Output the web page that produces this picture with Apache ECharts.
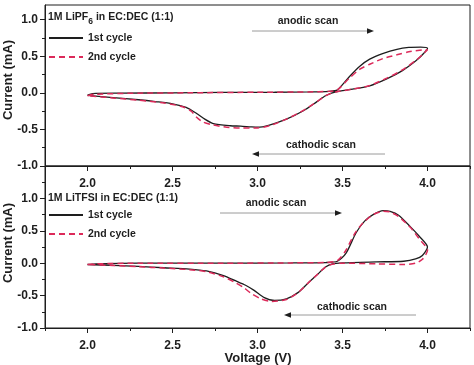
<!DOCTYPE html>
<html>
<head>
<meta charset="utf-8">
<script src="https://cdn.jsdelivr.net/npm/echarts@6/dist/echarts.min.js"></script>
<style>
html,body{margin:0;padding:0;background:#fff;}
#chart{width:474px;height:365px;}
</style>
</head>
<body>
<div id="chart"></div>
<script>
// ---- Data (voltage V, current mA) ----
const lipf6Cycle1 = [
  [2.0,-0.03],[2.03,-0.01],[2.2,-0.005],[2.5,0.0],[2.8,0.005],[3.1,0.008],[3.3,0.012],[3.42,0.02],
  [3.47,0.04],[3.54,0.22],[3.6,0.36],[3.66,0.46],[3.74,0.54],[3.82,0.595],[3.89,0.62],[3.96,0.625],[4.0,0.61],
  [3.97,0.52],[3.93,0.435],[3.85,0.30],[3.76,0.19],[3.66,0.095],[3.56,0.05],[3.46,0.014],[3.40,-0.04],
  [3.35,-0.12],[3.27,-0.245],[3.17,-0.36],[3.07,-0.44],[3.0,-0.47],[2.96,-0.465],[2.9,-0.455],[2.84,-0.45],
  [2.74,-0.42],[2.69,-0.36],[2.64,-0.28],[2.58,-0.2],[2.5,-0.15],[2.4,-0.12],[2.3,-0.095],[2.15,-0.065],[2.0,-0.035]
];
const lipf6Cycle2 = [
  [2.0,-0.04],[2.04,-0.02],[2.3,-0.005],[2.6,0.0],[3.0,0.008],[3.3,0.012],[3.42,0.02],[3.47,0.04],
  [3.54,0.2],[3.6,0.32],[3.66,0.39],[3.74,0.47],[3.82,0.52],[3.89,0.56],[3.97,0.585],[4.0,0.59],
  [3.97,0.52],[3.93,0.44],[3.85,0.31],[3.76,0.2],[3.66,0.1],[3.56,0.05],[3.46,0.012],[3.40,-0.04],
  [3.35,-0.12],[3.27,-0.24],[3.17,-0.36],[3.07,-0.45],[3.0,-0.48],[2.9,-0.48],[2.82,-0.47],[2.74,-0.44],
  [2.68,-0.40],[2.64,-0.33],[2.61,-0.25],[2.56,-0.19],[2.45,-0.14],[2.3,-0.1],[2.15,-0.07],[2.0,-0.04]
];
const litfsiCycle1 = [
  [2.0,-0.02],[2.05,-0.01],[2.3,0.0],[2.8,0.0],[3.2,0.005],[3.4,0.01],[3.47,0.03],[3.52,0.15],
  [3.58,0.47],[3.63,0.65],[3.68,0.75],[3.74,0.81],[3.78,0.8],[3.83,0.74],[3.9,0.56],[3.95,0.42],[4.0,0.25],
  [3.97,0.12],[3.93,0.065],[3.86,0.03],[3.7,0.02],[3.5,0.005],[3.44,-0.01],[3.40,-0.06],[3.35,-0.18],
  [3.3,-0.3],[3.24,-0.45],[3.17,-0.55],[3.10,-0.575],[3.04,-0.53],[2.98,-0.42],[2.93,-0.34],[2.87,-0.27],
  [2.8,-0.19],[2.7,-0.12],[2.6,-0.09],[2.45,-0.07],[2.3,-0.05],[2.15,-0.035],[2.0,-0.02]
];
const litfsiCycle2 = [
  [2.0,-0.02],[2.05,-0.01],[2.3,0.0],[2.8,0.0],[3.2,0.005],[3.4,0.01],[3.47,0.04],[3.52,0.2],
  [3.57,0.45],[3.62,0.62],[3.68,0.75],[3.74,0.8],[3.78,0.79],[3.83,0.72],[3.9,0.55],[3.95,0.38],[4.0,0.2],
  [3.97,0.06],[3.93,0.0],[3.86,-0.02],[3.7,-0.01],[3.5,0.0],[3.44,-0.015],[3.40,-0.06],[3.35,-0.18],
  [3.3,-0.3],[3.24,-0.45],[3.17,-0.56],[3.08,-0.59],[3.02,-0.55],[2.96,-0.46],[2.92,-0.38],[2.87,-0.3],
  [2.8,-0.21],[2.7,-0.13],[2.6,-0.1],[2.45,-0.075],[2.3,-0.055],[2.15,-0.035],[2.0,-0.02]
];
const seriesNames = ['1st cycle', '2nd cycle'];
const panelTitlesMain = ['1M LiPF', '1M LiTFSI in EC:DEC (1:1)'];
// ---- Tick labels ----
const xMajorTicks = [2.0, 2.5, 3.0, 3.5, 4.0];
const xMinorTicks = [1.75, 2.25, 2.75, 3.25, 3.75, 4.25];
const yMajorTicks = [-1.0, -0.5, 0.0, 0.5, 1.0];
const yMinorTicksTop = [-0.75, -0.25, 0.25, 0.75];
const yMinorTicksBottom = [-0.75, -0.25, 0.25, 0.75, 1.25];

const FONT = 'Liberation Sans, Arial, sans-serif';
const INK = '#1e1e1e';
const RED = '#dc2a5a';
const axisLineStyle = { color: INK, width: 1 };
const labelStyle = { fontFamily: FONT, fontWeight: 'bold', fontSize: 12, color: INK };

function xAxes(gridIndex) {
  return [
    { gridIndex, type: 'value', min: 1.75, max: 4.25, position: 'bottom',
      axisLine: { show: true, onZero: false, lineStyle: axisLineStyle },
      axisTick: { show: true, customValues: xMajorTicks, length: 5, lineStyle: axisLineStyle },
      axisLabel: Object.assign({ customValues: xMajorTicks, margin: 12, formatter: v => v.toFixed(1) }, labelStyle),
      splitLine: { show: false } },
    { gridIndex, type: 'value', min: 1.75, max: 4.25, position: 'bottom',
      axisLine: { show: false, onZero: false },
      axisTick: { show: true, customValues: xMinorTicks, length: 3, lineStyle: axisLineStyle },
      axisLabel: { show: false }, splitLine: { show: false } }
  ];
}
function yAxes(gridIndex, max, minor) {
  return [
    { gridIndex, type: 'value', min: -1.0, max: max, position: 'left',
      axisLine: { show: true, onZero: false, lineStyle: axisLineStyle },
      axisTick: { show: true, customValues: yMajorTicks, length: 5, lineStyle: axisLineStyle },
      axisLabel: Object.assign({ customValues: yMajorTicks, margin: 7, formatter: v => v.toFixed(1) }, labelStyle),
      splitLine: { show: false } },
    { gridIndex, type: 'value', min: -1.0, max: max, position: 'left',
      axisLine: { show: false, onZero: false },
      axisTick: { show: true, customValues: minor, length: 3, lineStyle: axisLineStyle },
      axisLabel: { show: false }, splitLine: { show: false } }
  ];
}
function lineSeries(name, data, xi, yi, dashed) {
  return {
    name, type: 'line', xAxisIndex: xi, yAxisIndex: yi, data,
    showSymbol: false, symbol: 'none', smooth: 0.25, animation: false,
    lineStyle: dashed ? { color: RED, width: 1.5, type: [6, 4] } : { color: INK, width: 1.3 },
    itemStyle: { color: dashed ? RED : INK }, z: dashed ? 3 : 2
  };
}
function arrow(x1, x2, y) {
  const dir = x2 > x1 ? 1 : -1;
  return [
    { type: 'line', shape: { x1, y1: y, x2: x2 - dir * 6, y2: y }, style: { stroke: '#9a9a9a', lineWidth: 1 } },
    { type: 'polygon', shape: { points: [[x2, y], [x2 - dir * 7, y - 2.8], [x2 - dir * 7, y + 2.8]] }, style: { fill: INK } }
  ];
}
function txt(text, x, y, align) {
  return { type: 'text', x, y, style: { text, x: 0, y: 0, align: align || 'center', verticalAlign: 'middle',
    font: 'bold 10.5px ' + FONT, fill: INK } };
}
function legendAt(top) {
  return { data: seriesNames, orient: 'vertical', left: 48, top, padding: 0, itemWidth: 34, itemHeight: 14, itemGap: 5,
    itemStyle: { opacity: 0 }, selectedMode: false,
    textStyle: { fontFamily: FONT, fontWeight: 'bold', fontSize: 10.5, color: INK, lineHeight: 14 } };
}

const chart = echarts.init(document.getElementById('chart'), null, { renderer: 'canvas' });
chart.setOption({
  animation: false,
  backgroundColor: '#fff',
  grid: [
    { left: 45, right: 4, top: 5, height: 161, show: true, borderColor: INK, borderWidth: 1, backgroundColor: 'transparent' },
    { left: 45, right: 4, top: 166, height: 162, show: true, borderColor: INK, borderWidth: 1, backgroundColor: 'transparent' }
  ],
  xAxis: [...xAxes(0), ...xAxes(1)],
  yAxis: [...yAxes(0, 1.2, yMinorTicksTop), ...yAxes(1, 1.5, yMinorTicksBottom)],
  legend: [legendAt(31), legendAt(208)],
  series: [
    lineSeries(seriesNames[0], lipf6Cycle1, 0, 0, false),
    lineSeries(seriesNames[1], lipf6Cycle2, 0, 0, true),
    lineSeries(seriesNames[0], litfsiCycle1, 2, 2, false),
    lineSeries(seriesNames[1], litfsiCycle2, 2, 2, true)
  ],
  graphic: [
    { type: 'text', x: 48, y: 17.5, style: {
        text: '{a|' + panelTitlesMain[0] + '}{s|6}{a| in EC:DEC (1:1)}', x: 0, y: 0, verticalAlign: 'middle',
        rich: { a: { font: 'bold 10.5px ' + FONT, fill: INK }, s: { font: 'bold 8.5px ' + FONT, fill: INK, padding: [8, 0, 0, 0] } } } },
    txt(panelTitlesMain[1], 48, 198, 'left'),
    txt('anodic scan', 308, 21), ...arrow(252, 374, 31),
    txt('cathodic scan', 321, 145), ...arrow(385, 252, 154),
    txt('anodic scan', 276, 203), ...arrow(220, 342, 213),
    txt('cathodic scan', 352, 307), ...arrow(416, 284, 315),
    { type: 'text', x: 8, y: 80, rotation: Math.PI / 2, style: { text: 'Current (mA)', x: 0, y: 0, align: 'center', verticalAlign: 'middle', font: 'bold 13px ' + FONT, fill: INK } },
    { type: 'text', x: 8, y: 243, rotation: Math.PI / 2, style: { text: 'Current (mA)', x: 0, y: 0, align: 'center', verticalAlign: 'middle', font: 'bold 13px ' + FONT, fill: INK } },
    { type: 'text', x: 258, y: 358, style: { text: 'Voltage (V)', x: 0, y: 0, align: 'center', verticalAlign: 'middle', font: 'bold 13px ' + FONT, fill: INK } }
  ]
});
</script>
</body>
</html>
